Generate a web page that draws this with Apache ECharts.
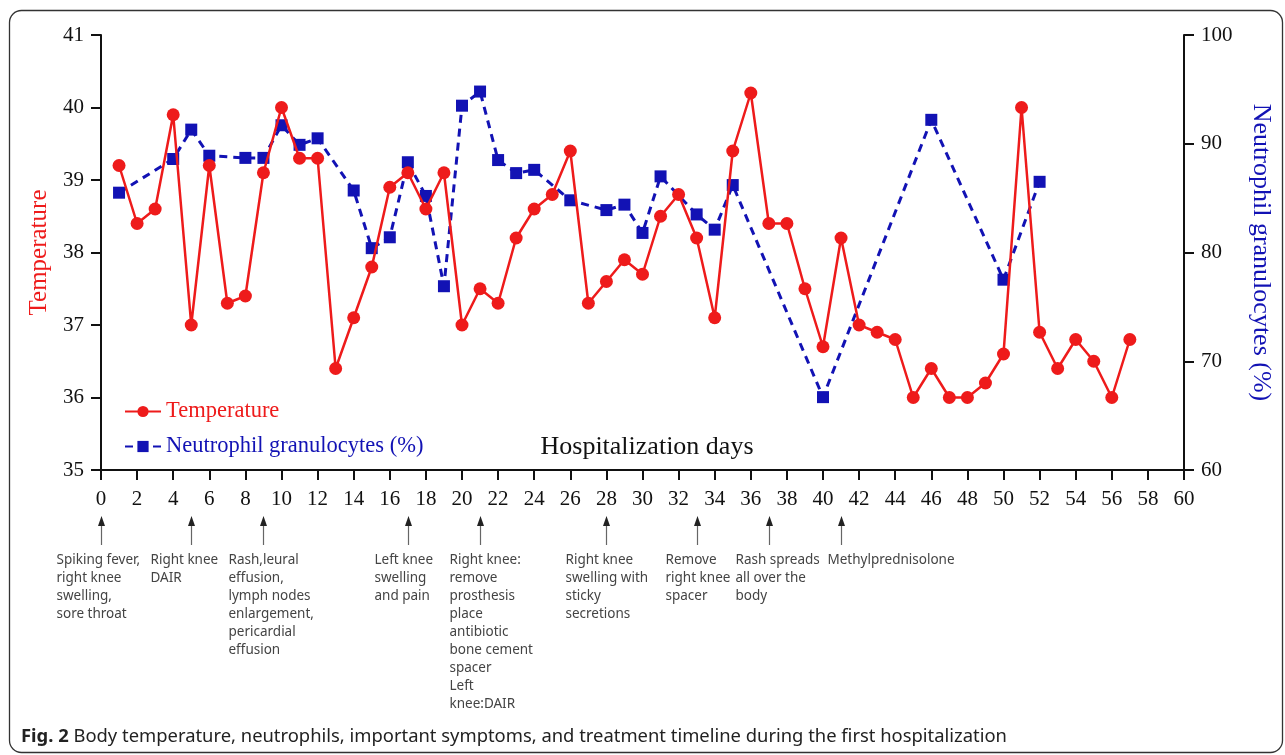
<!DOCTYPE html>
<html><head><meta charset="utf-8">
<script src="https://cdn.jsdelivr.net/npm/echarts@6/dist/echarts.min.js"></script>
<style>html,body{margin:0;padding:0;background:#fff}#c{width:1285px;height:755px}</style>
</head><body><div id="c"></div>
<script>
// ---- data ----
const tempDays = [1,2,3,4,5,6,7,8,9,10,11,12,13,14,15,16,17,18,19,20,21,22,23,24,25,26,27,28,29,30,31,32,33,34,35,36,37,38,39,40,41,42,43,44,45,46,47,48,49,50,51,52,53,54,55,56,57];
const tempValues = [39.2,38.4,38.6,39.9,37.0,39.2,37.3,37.4,39.1,40.0,39.3,39.3,36.4,37.1,37.8,38.9,39.1,38.6,39.1,37.0,37.5,37.3,38.2,38.6,38.8,39.4,37.3,37.6,37.9,37.7,38.5,38.8,38.2,37.1,39.4,40.2,38.4,38.4,37.5,36.7,38.2,37.0,36.9,36.8,36.0,36.4,36.0,36.0,36.2,36.6,40.0,36.9,36.4,36.8,36.5,36.0,36.8];
const neutDays = [1,4,5,6,8,9,10,11,12,14,15,16,17,18,19,20,21,22,23,24,26,28,29,30,31,33,34,35,40,46,50,52];
const neutValues = [85.5,88.6,91.3,88.9,88.7,88.7,91.7,89.9,90.5,85.7,80.4,81.4,88.3,85.2,76.9,93.5,94.8,88.5,87.3,87.6,84.8,83.9,84.4,81.8,87.0,83.5,82.1,86.2,66.7,92.2,77.5,86.5];
const xTicks = {min: 0, max: 60, interval: 2};
const tempTicks = {min: 35, max: 41, interval: 1};
const neutTicks = {min: 60, max: 100, interval: 10};
const eventDays = [0,5,9,17,21,28,33,37,41];
const eventTexts = [
  'Spiking fever,\nright knee\nswelling,\nsore throat',
  'Right knee\nDAIR',
  'Rash,leural\neffusion,\nlymph nodes\nenlargement,\npericardial\neffusion',
  'Left knee\nswelling\nand pain',
  'Right knee:\nremove\nprosthesis\nplace\nantibiotic\nbone cement\nspacer\nLeft\nknee:DAIR',
  'Right knee\nswelling with\nsticky\nsecretions',
  'Remove\nright knee\nspacer',
  'Rash spreads\nall over the\nbody',
  'Methylprednisolone'
];
const nameTemp = 'Temperature';
const nameNeut = 'Neutrophil granulocytes (%)';
const xName = 'Hospitalization days';
const captionBold = 'Fig. 2';
const caption = 'Body temperature, neutrophils, important symptoms, and treatment timeline during the first hospitalization';

// ---- layout / style (not data) ----
const textOffsets = [-45,-41,-35,-34,-31,-41,-32,-34,-14];
const RED = '#ee1b1b', BLUE = '#1212b4';
const SERIF = '"Liberation Serif","Times New Roman",serif';
const SANS = '"Noto Sans",sans-serif';

const chart = echarts.init(document.getElementById('c'));
const axisCommon = {
  axisLine: {show: true, lineStyle: {color: '#111', width: 2}},
  axisTick: {show: true, length: 10, lineStyle: {color: '#111', width: 2}},
  axisLabel: {color: '#111', fontFamily: SERIF, fontSize: 21},
  splitLine: {show: false}
};
chart.setOption({
  animation: false,
  backgroundColor: '#fff',
  grid: {left: 101, right: 101, top: 35, bottom: 285, containLabel: false},
  xAxis: Object.assign({}, axisCommon, {
    type: 'value', min: xTicks.min, max: xTicks.max, interval: xTicks.interval,
    axisLabel: Object.assign({}, axisCommon.axisLabel, {margin: 19})
  }),
  yAxis: [
    Object.assign({}, axisCommon, {
      type: 'value', position: 'left', min: tempTicks.min, max: tempTicks.max, interval: tempTicks.interval,
      name: nameTemp, nameLocation: 'middle', nameGap: 49, nameRotate: 90,
      nameTextStyle: {color: RED, fontFamily: SERIF, fontSize: 25},
      axisLabel: Object.assign({}, axisCommon.axisLabel, {margin: 17})
    }),
    Object.assign({}, axisCommon, {
      type: 'value', position: 'right', min: neutTicks.min, max: neutTicks.max, interval: neutTicks.interval,
      name: nameNeut, nameLocation: 'middle', nameGap: 64, nameRotate: -90,
      nameTextStyle: {color: BLUE, fontFamily: SERIF, fontSize: 26},
      axisLabel: Object.assign({}, axisCommon.axisLabel, {margin: 17})
    })
  ],
  legend: {
    orient: 'vertical', left: 119, top: 395, itemWidth: 36, itemHeight: 14, itemGap: 12,
    textStyle: {fontFamily: SERIF, fontSize: 22.5},
    data: [
      {name: nameTemp, textStyle: {color: RED}},
      {name: nameNeut, textStyle: {color: BLUE}}
    ]
  },
  series: [
    {
      name: nameNeut, type: 'line', yAxisIndex: 1, z: 2,
      data: neutDays.map((d, i) => [d, neutValues[i]]),
      symbol: 'rect', symbolSize: 12,
      itemStyle: {color: BLUE},
      lineStyle: {color: BLUE, width: 3, type: [8, 6]}
    },
    {
      name: nameTemp, type: 'line', yAxisIndex: 0, z: 3,
      data: tempDays.map((d, i) => [d, tempValues[i]]),
      symbol: 'circle', symbolSize: 13,
      itemStyle: {color: RED},
      lineStyle: {color: RED, width: 2.5}
    }
  ]
});

function buildGraphics() {
  const g = [];
  g.push({type: 'rect', shape: {x: 9.5, y: 10.5, width: 1273, height: 742, r: 12},
    style: {fill: 'none', stroke: '#333', lineWidth: 1.3}, z: -1});
  g.push({type: 'text', x: 647, y: 447, style: {text: xName, font: '26px ' + SERIF, fill: '#111', align: 'center', verticalAlign: 'middle'}});
  eventDays.forEach((d, i) => {
    const x = Math.round(chart.convertToPixel({xAxisIndex: 0}, d)) + 0.5;
    g.push({type: 'line', shape: {x1: x, y1: 524, x2: x, y2: 545}, style: {stroke: '#666', lineWidth: 1.2}});
    g.push({type: 'polygon', shape: {points: [[x, 516], [x - 3.5, 526], [x + 3.5, 526]]}, style: {fill: '#222'}});
    g.push({type: 'text', x: x + textOffsets[i], y: 551,
      style: {text: eventTexts[i], font: '13.5px ' + SANS, fill: '#444', lineHeight: 18, align: 'left', verticalAlign: 'top'}});
  });
  g.push({type: 'text', x: 21, y: 737, style: {
    text: '{b|' + captionBold + '} ' + caption, verticalAlign: 'middle',
    font: '18.4px ' + SANS, fill: '#222',
    rich: {b: {fontWeight: 'bold', fontSize: 18.4, fontFamily: SANS, fill: '#222'}}
  }});
  return g;
}
chart.setOption({graphic: buildGraphics()});
</script>
</body></html>
